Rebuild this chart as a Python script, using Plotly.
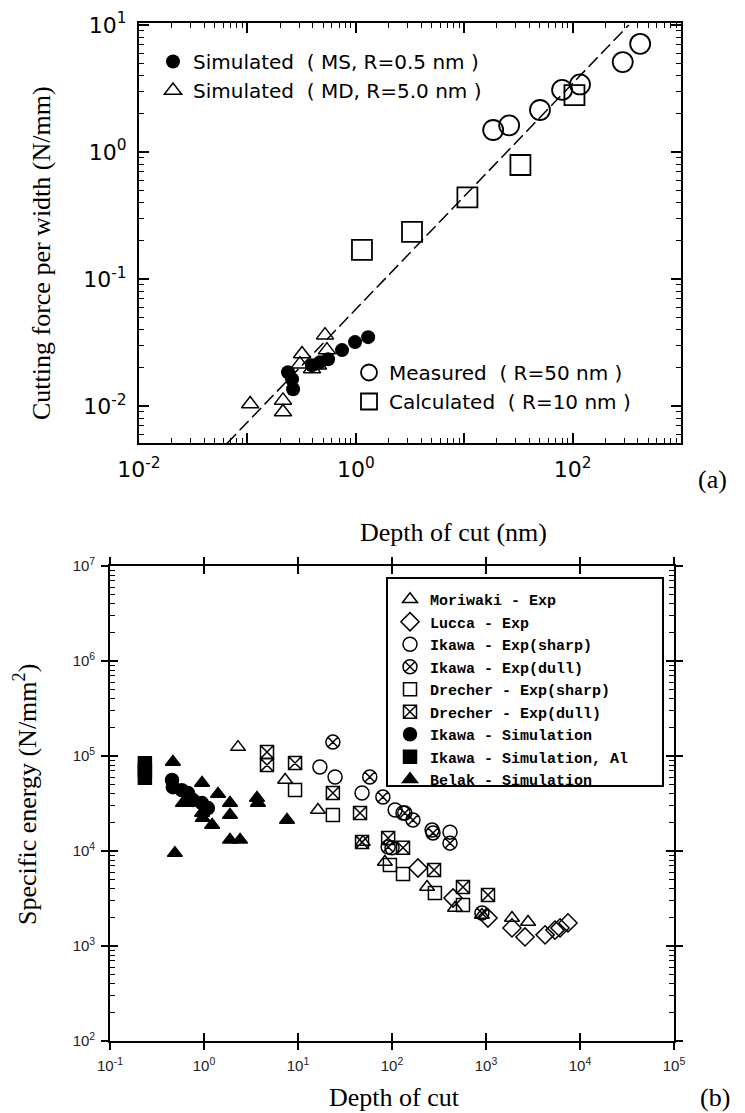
import plotly.graph_objects as go

# ---------------- (a) data ----------------
ms_x = [0.237, 0.258, 0.264, 0.394, 0.468, 0.555, 0.746, 0.984, 1.30]
ms_y = [0.0185, 0.0163, 0.0136, 0.021, 0.0222, 0.0234, 0.0276, 0.0319, 0.0349]
md_x = [0.106, 0.213, 0.213, 0.319, 0.305, 0.394, 0.448, 0.52, 0.542]
md_y = [0.0104, 0.0111, 0.0090, 0.0257, 0.0214, 0.0196, 0.021, 0.0362, 0.0276]
meas_x = [18.5, 26, 50, 80, 117, 290, 420]
meas_y = [1.49, 1.62, 2.14, 3.08, 3.4, 5.1, 7.1]
calc_x = [1.14, 3.3, 10.7, 33, 104]
calc_y = [0.17, 0.235, 0.44, 0.79, 2.8]
fit_x = [0.065, 330]
fit_y = [0.0051, 10.0]

# ---------------- (b) data ----------------
mori_x = [2.30, 7.3, 16.3, 49, 84, 236, 468, 905, 1890, 2800]
mori_y = [124000, 55800, 27000, 12400, 7650, 4180, 2510, 2120, 1970, 1790]
lucca_x = [189, 446, 1050, 1890, 2600, 4250, 5420, 6130, 7450]
lucca_y = [6620, 3200, 1970, 1550, 1245, 1310, 1470, 1550, 1750]
ikS_x = [17.1, 24.8, 48, 108, 131, 267, 414, 100]
ikS_y = [76600, 60100, 40800, 27000, 25100, 16600, 15800, 10800]
ikD_x = [23.5, 58, 80, 137, 167, 273, 414, 91, 905]
ikD_y = [140000, 60100, 37000, 25100, 21200, 15500, 12100, 11000, 2220]
drS_x = [9.3, 23.5, 95, 131, 286, 569]
drS_y = [43900, 23900, 7130, 5730, 3610, 2700]
drD_x = [4.68, 4.68, 9.3, 23.5, 45.7, 48, 91, 131, 280, 569, 1050]
drD_y = [110000, 80400, 84300, 40800, 25100, 12400, 13700, 10800, 6310, 4180, 3440]
ikSim_x = [0.457, 0.466, 0.58, 0.676, 0.764, 0.95, 1.10]
ikSim_y = [55900, 46900, 43700, 40700, 34400, 32000, 28300]
ikAl_x = [0.235, 0.235, 0.235]
ikAl_y = [84000, 71000, 59000]
belak_x = [0.467, 0.953, 1.41, 0.598, 0.953, 0.97, 1.22, 1.89, 1.89, 3.66, 3.75, 7.64, 0.49, 1.89, 2.42]
belak_y = [86500, 52000, 39800, 32000, 25100, 22200, 18800, 32000, 23900, 36100, 32000, 21200, 9500, 13100, 13100]

a_xticks = [0.01, 0.1, 1, 10, 100, 1000]
a_xtext = ["10<sup>-2</sup>", " ", "10<sup>0</sup>", " ", "10<sup>2</sup>", " "]
a_yticks = [0.01, 0.1, 1, 10]
a_ytext = ["10<sup>-2</sup>", "10<sup>-1</sup>", "10<sup>0</sup>", "10<sup>1</sup>"]
b_xticks = [0.1, 1, 10, 100, 1000, 10000, 100000]
b_xtext = ["10<sup>-1</sup>", "10<sup>0</sup>", "10<sup>1</sup>", "10<sup>2</sup>",
           "10<sup>3</sup>", "10<sup>4</sup>", "10<sup>5</sup>"]
b_yticks = [1e2, 1e3, 1e4, 1e5, 1e6, 1e7]
b_ytext = ["10<sup>2</sup>", "10<sup>3</sup>", "10<sup>4</sup>", "10<sup>5</sup>",
           "10<sup>6</sup>", "10<sup>7</sup>"]


def minors(lo, hi):
    return [m * 10.0 ** k for k in range(lo, hi) for m in range(2, 10)]


W, H = 745, 1113
def px(x):
    return x / W
def py(y):
    return 1 - y / H

fig = go.Figure()
K = "black"
SANS = "DejaVu Sans"
SERIF = "Liberation Serif"
MONO = "Liberation Mono"

# (a) traces
fig.add_trace(go.Scatter(x=fit_x, y=fit_y, mode="lines", showlegend=False,
                         line=dict(color=K, width=1.5, dash="13px,5px"), xaxis="x", yaxis="y"))
fig.add_trace(go.Scatter(x=ms_x, y=ms_y, mode="markers", name="Simulated\u00a0\u00a0( MS, R=0.5 nm )",
                         marker=dict(symbol="circle", size=14, color=K), legend="legend",
                         xaxis="x", yaxis="y"))
fig.add_trace(go.Scatter(x=md_x, y=md_y, mode="markers", name="Simulated\u00a0\u00a0( MD, R=5.0 nm )",
                         marker=dict(symbol="triangle-up-open", size=15, color=K, line=dict(width=1.5)),
                         legend="legend", xaxis="x", yaxis="y"))
fig.add_trace(go.Scatter(x=meas_x, y=meas_y, mode="markers", name="Measured\u00a0\u00a0( R=50 nm )",
                         marker=dict(symbol="circle-open", size=20, color=K, line=dict(width=1.8)),
                         legend="legend2", xaxis="x", yaxis="y"))
fig.add_trace(go.Scatter(x=calc_x, y=calc_y, mode="markers", name="Calculated\u00a0\u00a0( R=10 nm )",
                         marker=dict(symbol="square-open", size=20, color=K, line=dict(width=1.8)),
                         legend="legend2", xaxis="x", yaxis="y"))

# (b) traces
def bt(x, y, name, sym, size=13):
    fig.add_trace(go.Scatter(x=x, y=y, mode="markers", name=name,
                             marker=dict(symbol=sym, size=size, color=K, line=dict(width=1.5, color=K)),
                             legend="legend3", xaxis="x2", yaxis="y2"))

bt(mori_x, mori_y, "Moriwaki - Exp", "triangle-up-open", 13)
bt(lucca_x, lucca_y, "Lucca - Exp", "diamond-open", 14)
bt(ikS_x, ikS_y, "Ikawa - Exp(sharp)", "circle-open", 14)
bt(ikD_x, ikD_y, "Ikawa - Exp(dull)", "circle-x-open", 14)
bt(drS_x, drS_y, "Drecher - Exp(sharp)", "square-open", 13)
bt(drD_x, drD_y, "Drecher - Exp(dull)", "square-x-open", 13)
bt(ikSim_x, ikSim_y, "Ikawa - Simulation", "circle", 13)
bt(ikAl_x, ikAl_y, "Ikawa - Simulation, Al", "square", 13)
bt(belak_x, belak_y, "Belak - Simulation", "triangle-up", 13)

# dummy trace to activate overlay axes for crossing ticks
fig.add_trace(go.Scatter(x=[None], y=[None], xaxis="x3", yaxis="y3", showlegend=False, hoverinfo="skip"))

axA = dict(type="log", showline=True, linecolor=K, linewidth=2, mirror="allticks",
           ticks="inside", ticklen=10, tickwidth=1.5, tickcolor=K, automargin=False,
           showgrid=False, zeroline=False, tickmode="array",
           tickfont=dict(family=SANS, size=22, color=K), ticklabelstandoff=6)
fig.update_layout(
    xaxis=dict(axA, domain=[px(139), px(681)], range=[-2, 3], anchor="y",
               tickvals=a_xticks, ticktext=a_xtext,
               minor=dict(ticks="inside", ticklen=5, tickwidth=1.2, tickcolor=K, tickmode="array",
                          tickvals=minors(-2, 3))),
    yaxis=dict(axA, domain=[py(443), py(23)], range=[-2.29, 1.015], anchor="x",
               tickvals=a_yticks, ticktext=a_ytext,
               minor=dict(ticks="inside", ticklen=5, tickwidth=1.2, tickcolor=K, tickmode="array",
                          tickvals=minors(-3, 1))),
)

axB = dict(type="log", showline=True, linecolor=K, linewidth=1.6, mirror="allticks",
           ticks="inside", ticklen=8, tickwidth=1.5, tickcolor=K, automargin=False,
           showgrid=False, zeroline=False, tickmode="array",
           tickfont=dict(family="Liberation Sans", size=15, color="#222"), ticklabelstandoff=10)
fig.update_layout(
    xaxis2=dict(axB, domain=[px(110), px(674)], range=[-1, 5], anchor="y2",
                tickvals=b_xticks, ticktext=b_xtext),
    yaxis2=dict(axB, domain=[py(1041), py(566)], range=[2, 7], anchor="x2",
                tickvals=b_yticks, ticktext=b_ytext,
                minor=dict(ticks="inside", ticklen=5, tickwidth=1.2, tickcolor=K, tickmode="array",
                           tickvals=minors(2, 7))),
    xaxis3=dict(type="log", overlaying="x2", anchor="y3", range=[-1, 5], tickmode="array",
                tickvals=b_xticks, ticks="outside", ticklen=8, tickwidth=1.5, tickcolor=K,
                automargin=False,
                mirror="allticks", showline=False, showticklabels=False, showgrid=False, zeroline=False),
    yaxis3=dict(type="log", overlaying="y2", anchor="x3", range=[2, 7], tickmode="array",
                tickvals=b_yticks, ticks="outside", ticklen=8, tickwidth=1.5, tickcolor=K,
                automargin=False,
                mirror="allticks", showline=False, showticklabels=False, showgrid=False, zeroline=False),
)

def ann(text, x, y, angle=0):
    return dict(text=text, x=px(x), y=py(y), xref="paper", yref="paper", xanchor="center",
                yanchor="middle", textangle=angle, showarrow=False,
                font=dict(family=SERIF, size=26, color=K))

fig.update_layout(
    width=W, height=H, margin=dict(l=0, r=0, t=0, b=0, autoexpand=False),
    paper_bgcolor="white", plot_bgcolor="rgba(0,0,0,0)",
    legend=dict(x=px(153), y=py(42), xanchor="left", yanchor="top", bgcolor="rgba(0,0,0,0)",
                font=dict(family=SANS, size=20, color=K), borderwidth=0),
    legend2=dict(x=px(349), y=py(353), xanchor="left", yanchor="top", bgcolor="rgba(0,0,0,0)",
                 font=dict(family=SANS, size=20, color=K), borderwidth=0),
    legend3=dict(x=px(390), y=py(583), xanchor="left", yanchor="top", bgcolor="rgba(0,0,0,0)",
                 font=dict(family=MONO, size=15, color=K, weight="bold"), borderwidth=0),
    shapes=[dict(type="rect", xref="paper", yref="paper", x0=px(387), x1=px(663),
                 y0=py(786), y1=py(578), line=dict(color=K, width=2))],
    annotations=[
        ann("Cutting force per width (N/mm)", 42, 253, -90),
        ann("Depth of cut (nm)", 453, 532),
        ann("(a)", 712, 480),
        ann("Specific energy (N/mm<sup>2</sup>)", 25, 795, -90),
        ann("Depth of cut", 394, 1097),
        ann("(b)", 715, 1097),
    ],
)

fig.write_html("out.html")
